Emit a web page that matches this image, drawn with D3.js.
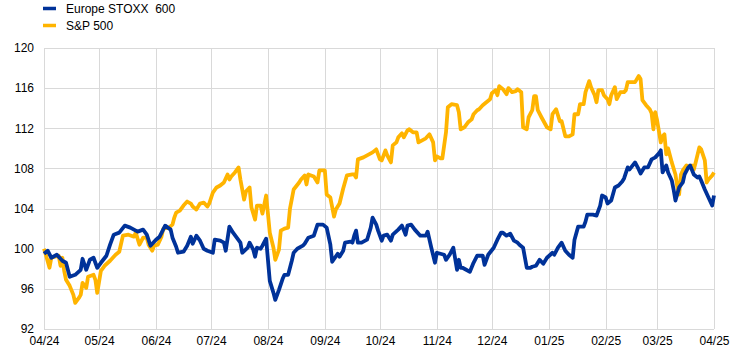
<!DOCTYPE html>
<html>
<head>
<meta charset="utf-8">
<script src="https://cdn.jsdelivr.net/npm/d3@7/dist/d3.min.js"></script>
<style>
  html, body { margin: 0; padding: 0; background: #fff; }
  svg { display: block; font-family: "Liberation Sans", Arial, sans-serif; }
</style>
</head>
<body>
<div id="chart"></div>
<script>
// ---- data ----
const seriesNames = ["Europe STOXX  600", "S&P 500"];
const seriesColors = ["#003299", "#FFB400"];
const xTickLabels = ["04/24","05/24","06/24","07/24","08/24","09/24","10/24","11/24","12/24","01/25","02/25","03/25","04/25"];
const yTicks = [92, 96, 100, 104, 108, 112, 116, 120];

const stoxxDates = ["2024-04-01","2024-04-03","2024-04-05","2024-04-08","2024-04-11","2024-04-13","2024-04-15","2024-04-18","2024-04-21","2024-04-22","2024-04-24","2024-04-26","2024-04-28","2024-04-30","2024-05-02","2024-05-05","2024-05-07","2024-05-09","2024-05-12","2024-05-15","2024-05-18","2024-05-22","2024-05-25","2024-05-27","2024-05-29","2024-06-01","2024-06-03","2024-06-06","2024-06-09","2024-06-10","2024-06-12","2024-06-13","2024-06-16","2024-06-18","2024-06-20","2024-06-21","2024-06-23","2024-06-25","2024-06-27","2024-06-29","2024-07-02","2024-07-03","2024-07-06","2024-07-08","2024-07-09","2024-07-11","2024-07-13","2024-07-15","2024-07-17","2024-07-18","2024-07-21","2024-07-22","2024-07-24","2024-07-25","2024-07-26","2024-07-28","2024-07-29","2024-07-31","2024-08-01","2024-08-02","2024-08-04","2024-08-05","2024-08-07","2024-08-09","2024-08-10","2024-08-12","2024-08-14","2024-08-15","2024-08-17","2024-08-20","2024-08-21","2024-08-23","2024-08-26","2024-08-28","2024-08-31","2024-09-02","2024-09-04","2024-09-05","2024-09-08","2024-09-09","2024-09-11","2024-09-12","2024-09-15","2024-09-16","2024-09-17","2024-09-18","2024-09-19","2024-09-21","2024-09-24","2024-09-26","2024-09-27","2024-09-29","2024-09-30","2024-10-02","2024-10-03","2024-10-05","2024-10-07","2024-10-08","2024-10-11","2024-10-13","2024-10-15","2024-10-16","2024-10-18","2024-10-20","2024-10-23","2024-10-26","2024-10-27","2024-10-29","2024-10-31","2024-11-01","2024-11-03","2024-11-05","2024-11-06","2024-11-08","2024-11-10","2024-11-12","2024-11-13","2024-11-14","2024-11-15","2024-11-17","2024-11-19","2024-11-21","2024-11-23","2024-11-26","2024-11-27","2024-11-29","2024-12-02","2024-12-04","2024-12-06","2024-12-07","2024-12-09","2024-12-11","2024-12-13","2024-12-15","2024-12-16","2024-12-18","2024-12-20","2024-12-22","2024-12-23","2024-12-25","2024-12-27","2024-12-29","2024-12-31","2025-01-03","2025-01-04","2025-01-06","2025-01-08","2025-01-10","2025-01-12","2025-01-14","2025-01-15","2025-01-17","2025-01-20","2025-01-21","2025-01-22","2025-01-25","2025-01-27","2025-01-29","2025-01-30","2025-02-01","2025-02-02","2025-02-04","2025-02-06","2025-02-08","2025-02-10","2025-02-11","2025-02-13","2025-02-14","2025-02-17","2025-02-19","2025-02-20","2025-02-22","2025-02-24","2025-02-26","2025-02-28","2025-03-02","2025-03-03","2025-03-04","2025-03-06","2025-03-07","2025-03-09","2025-03-10","2025-03-11","2025-03-13","2025-03-15","2025-03-16","2025-03-18","2025-03-19","2025-03-21","2025-03-23","2025-03-24","2025-03-25","2025-03-27","2025-03-29","2025-03-31","2025-04-01"];
const stoxxValues = [99.5,99.8,99.1,99.4,98.8,98.6,97.2,97.4,97.9,99.0,97.9,98.9,99.1,98.1,98.6,99.3,100.4,101.4,101.6,102.3,102.1,101.7,101.9,101.4,100.3,100.9,101.2,102.3,101.9,101.1,100.2,99.6,99.7,100.3,101.2,100.5,101.3,100.8,100.0,99.8,99.6,100.9,100.8,100.6,99.8,102.2,101.6,101.1,100.6,99.6,100.1,100.6,99.9,99.2,100.1,100.0,100.3,101.0,98.9,96.8,95.6,94.9,95.9,97.0,97.4,97.4,98.8,99.6,100.0,100.3,100.5,101.1,101.3,102.4,102.4,102.1,100.4,98.7,99.5,99.2,99.8,100.6,100.7,100.6,101.3,101.8,100.6,100.6,100.9,102.1,103.1,102.4,101.8,100.8,101.3,101.4,100.8,101.4,101.9,102.3,101.4,102.3,102.4,101.9,101.3,101.3,101.7,100.1,98.6,99.6,99.5,99.4,98.9,99.4,100.1,97.9,98.9,98.1,98.1,97.9,97.7,98.6,99.3,99.3,98.4,99.4,100.1,100.9,101.6,101.6,101.3,101.5,100.8,100.6,100.4,100.1,98.1,98.1,98.2,98.3,98.9,98.5,99.1,99.6,99.4,100.1,100.6,99.8,99.4,99.1,100.9,102.2,102.2,102.7,103.4,103.4,103.3,104.3,105.3,105.1,104.5,104.8,106.1,106.3,106.7,107.0,108.1,107.9,108.6,107.9,107.5,108.1,108.1,108.9,109.1,109.5,109.8,107.6,108.3,107.6,106.8,105.9,104.8,106.1,106.6,107.4,108.1,108.3,107.4,107.1,107.2,106.8,105.9,105.1,104.3,105.3];

const spDates = ["2024-04-01","2024-04-02","2024-04-04","2024-04-05","2024-04-07","2024-04-09","2024-04-10","2024-04-11","2024-04-12","2024-04-13","2024-04-15","2024-04-17","2024-04-18","2024-04-20","2024-04-21","2024-04-22","2024-04-24","2024-04-25","2024-04-28","2024-04-29","2024-04-30","2024-05-02","2024-05-04","2024-05-07","2024-05-10","2024-05-12","2024-05-14","2024-05-17","2024-05-20","2024-05-21","2024-05-23","2024-05-25","2024-05-27","2024-05-28","2024-05-30","2024-05-31","2024-06-02","2024-06-04","2024-06-05","2024-06-08","2024-06-10","2024-06-11","2024-06-12","2024-06-14","2024-06-16","2024-06-18","2024-06-20","2024-06-21","2024-06-23","2024-06-25","2024-06-27","2024-06-29","2024-06-30","2024-07-02","2024-07-04","2024-07-06","2024-07-08","2024-07-10","2024-07-11","2024-07-12","2024-07-14","2024-07-16","2024-07-17","2024-07-19","2024-07-20","2024-07-22","2024-07-23","2024-07-25","2024-07-26","2024-07-28","2024-07-29","2024-07-31","2024-08-01","2024-08-02","2024-08-04","2024-08-05","2024-08-07","2024-08-08","2024-08-10","2024-08-12","2024-08-13","2024-08-15","2024-08-18","2024-08-19","2024-08-21","2024-08-22","2024-08-23","2024-08-26","2024-08-28","2024-08-29","2024-09-01","2024-09-02","2024-09-04","2024-09-06","2024-09-07","2024-09-09","2024-09-11","2024-09-13","2024-09-16","2024-09-17","2024-09-18","2024-09-19","2024-09-22","2024-09-24","2024-09-26","2024-09-27","2024-09-29","2024-10-01","2024-10-02","2024-10-04","2024-10-05","2024-10-07","2024-10-08","2024-10-10","2024-10-11","2024-10-13","2024-10-14","2024-10-16","2024-10-17","2024-10-19","2024-10-21","2024-10-22","2024-10-25","2024-10-26","2024-10-28","2024-10-30","2024-10-31","2024-11-01","2024-11-03","2024-11-04","2024-11-06","2024-11-07","2024-11-09","2024-11-12","2024-11-13","2024-11-14","2024-11-16","2024-11-18","2024-11-20","2024-11-21","2024-11-23","2024-11-24","2024-11-26","2024-11-28","2024-11-30","2024-12-01","2024-12-03","2024-12-04","2024-12-05","2024-12-07","2024-12-09","2024-12-10","2024-12-12","2024-12-14","2024-12-15","2024-12-17","2024-12-18","2024-12-20","2024-12-21","2024-12-23","2024-12-24","2024-12-25","2024-12-26","2024-12-28","2024-12-31","2025-01-02","2025-01-03","2025-01-05","2025-01-07","2025-01-08","2025-01-10","2025-01-12","2025-01-14","2025-01-15","2025-01-17","2025-01-18","2025-01-20","2025-01-21","2025-01-23","2025-01-24","2025-01-26","2025-01-27","2025-01-28","2025-01-30","2025-01-31","2025-02-02","2025-02-03","2025-02-04","2025-02-06","2025-02-07","2025-02-09","2025-02-11","2025-02-12","2025-02-13","2025-02-15","2025-02-17","2025-02-19","2025-02-20","2025-02-21","2025-02-23","2025-02-25","2025-02-26","2025-02-27","2025-02-28","2025-03-01","2025-03-02","2025-03-03","2025-03-04","2025-03-05","2025-03-06","2025-03-07","2025-03-09","2025-03-11","2025-03-12","2025-03-13","2025-03-14","2025-03-15","2025-03-17","2025-03-19","2025-03-20","2025-03-21","2025-03-22","2025-03-24","2025-03-25","2025-03-27","2025-03-28","2025-03-29","2025-03-31","2025-04-01"];
const spValues = [100.0,99.4,98.1,99.1,99.2,99.3,98.3,99.1,97.8,96.9,96.3,95.4,94.6,95.1,95.4,96.6,96.1,97.2,97.4,96.9,95.6,97.8,98.3,98.8,99.4,99.7,101.3,101.4,101.2,101.6,100.4,101.1,101.1,100.4,99.8,100.3,100.4,101.2,102.0,102.1,102.4,103.1,103.6,103.8,104.3,104.7,104.5,104.2,103.9,104.5,104.6,104.2,104.5,105.6,106.1,106.3,106.6,107.4,106.9,107.2,107.6,108.1,106.9,104.9,105.7,106.1,104.1,102.9,104.3,104.3,103.5,105.3,103.5,101.6,100.1,98.9,99.9,101.8,102.0,102.1,104.0,105.9,106.6,106.9,107.3,106.4,107.4,107.2,106.6,107.8,107.8,105.4,105.1,103.2,103.9,104.5,106.0,107.3,107.4,107.4,107.1,108.9,109.1,109.3,109.5,109.6,109.9,108.9,108.8,109.8,109.3,108.6,110.3,110.6,111.1,111.5,111.1,111.8,111.9,111.6,111.6,110.6,110.9,111.0,111.4,110.6,108.8,109.2,109.0,109.0,111.6,114.1,114.4,114.3,113.6,111.9,112.1,112.6,112.9,113.4,113.8,113.9,114.3,114.6,114.9,115.5,115.8,115.3,116.2,115.9,115.4,116.0,115.6,115.7,115.9,115.6,112.1,111.9,113.1,113.8,115.2,115.2,113.8,113.1,112.1,111.9,113.4,113.9,112.7,112.7,111.2,111.2,111.4,113.4,113.4,114.4,114.4,115.6,116.7,116.1,115.3,114.6,115.8,115.8,115.3,114.9,114.4,115.3,116.1,114.9,115.6,115.6,115.8,116.6,116.6,116.6,117.2,116.9,114.8,114.3,113.9,113.5,111.9,113.6,112.8,111.7,110.6,111.2,111.4,109.4,110.0,108.6,107.4,106.2,105.4,107.4,107.8,108.3,108.1,108.3,107.9,108.6,110.1,109.9,108.8,106.6,106.9,107.3,107.6];

// ---- chart ----
const W = 744, H = 357;
const parse = d3.timeParse("%Y-%m-%d");
const svg = d3.select("#chart").append("svg").attr("width", W).attr("height", H);

const x = d3.scaleTime().domain([parse("2024-04-01"), parse("2025-04-01")]).range([44, 714]);
const y = d3.scaleLinear().domain([92, 120]).range([329, 48]);

const monthTicks = xTickLabels.map(s => {
  const [m, yy] = s.split("/");
  return new Date(2000 + (+yy), +m - 1, 1);
});

// gridlines
const grid = svg.append("g").attr("stroke", "#d9d9d9").attr("stroke-width", 1).attr("shape-rendering", "crispEdges");
grid.selectAll("line.h").data(yTicks).join("line")
  .attr("x1", x.range()[0]).attr("x2", x.range()[1])
  .attr("y1", d => Math.round(y(d)) + 0.5).attr("y2", d => Math.round(y(d)) + 0.5);
grid.selectAll("line.v").data(monthTicks).join("line")
  .attr("x1", d => Math.round(x(d)) + 0.5).attr("x2", d => Math.round(x(d)) + 0.5)
  .attr("y1", y(120)).attr("y2", y(92));

// y axis labels
const yAxis = d3.axisLeft(y).tickValues(yTicks).tickSize(0).tickPadding(10).tickFormat(d3.format("d"));
const gy = svg.append("g").attr("transform", "translate(44,0)").call(yAxis);
gy.select(".domain").remove();
gy.selectAll("text").attr("font-size", 12).attr("fill", "#000").attr("font-family", "Liberation Sans, Arial, sans-serif");

// x axis labels
const xAxis = d3.axisBottom(x).tickValues(monthTicks).tickSize(0).tickPadding(7)
  .tickFormat((d, i) => xTickLabels[i]);
const gx = svg.append("g").attr("transform", "translate(0,329)").call(xAxis);
gx.select(".domain").remove();
gx.selectAll("text").attr("font-size", 12).attr("fill", "#000").attr("font-family", "Liberation Sans, Arial, sans-serif");

// lines
const line = d3.line().x(d => x(d.date)).y(d => y(d.value)).curve(d3.curveLinear);
const series = [
  { name: seriesNames[0], color: seriesColors[0], data: stoxxDates.map((d, i) => ({ date: parse(d), value: stoxxValues[i] })) },
  { name: seriesNames[1], color: seriesColors[1], data: spDates.map((d, i) => ({ date: parse(d), value: spValues[i] })) }
];
// draw S&P first, then STOXX on top
[series[1], series[0]].forEach(s => {
  svg.append("path").datum(s.data)
    .attr("fill", "none").attr("stroke", s.color).attr("stroke-width", 3.8)
    .attr("stroke-linejoin", "round").attr("stroke-linecap", "butt")
    .attr("d", line);
});

// legend
const legend = svg.append("g");
series.forEach((s, i) => {
  const gy0 = 8.5 + i * 17;
  legend.append("rect").attr("x", 43).attr("y", gy0 - 1.75).attr("width", 13).attr("height", 3.5).attr("fill", s.color);
  legend.append("text").attr("x", 66).attr("y", gy0 + 4).attr("font-size", 12).attr("fill", "#000")
    .style("white-space", "pre").text(s.name);
});
</script>
</body>
</html>
